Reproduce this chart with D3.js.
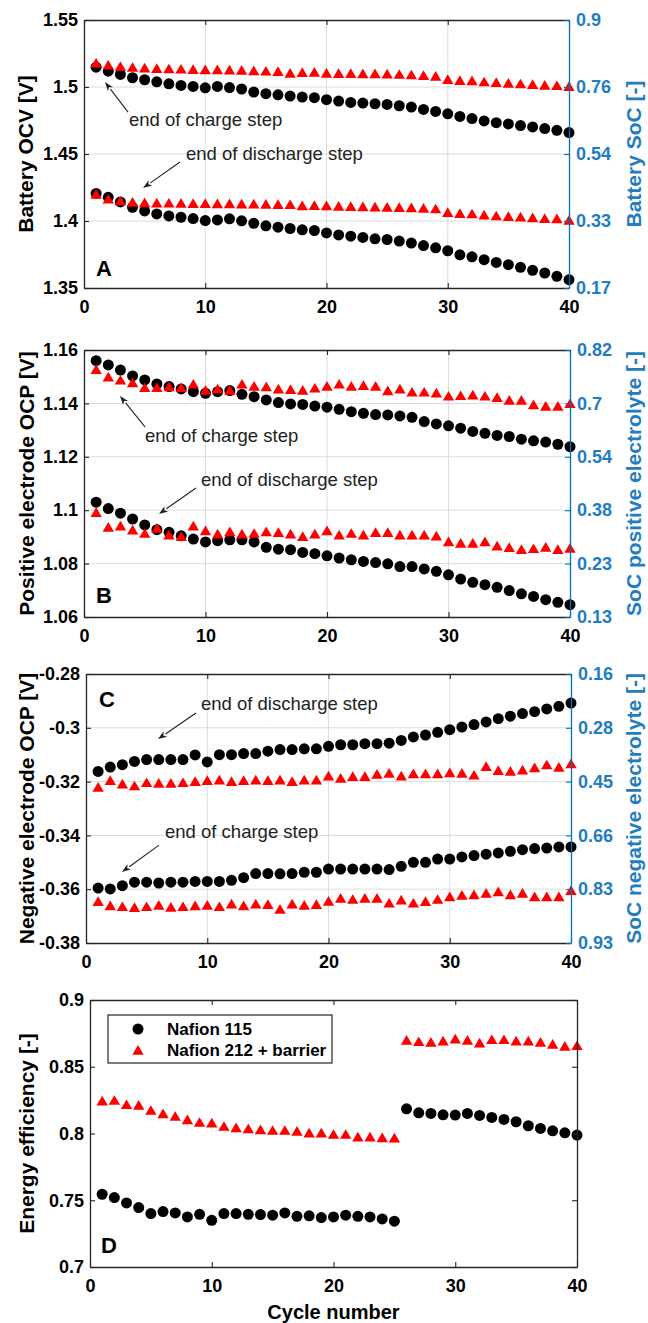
<!DOCTYPE html>
<html><head><meta charset="utf-8">
<script src="https://cdn.jsdelivr.net/npm/d3@7"></script>
<style>
body{margin:0;background:#fff}
svg{display:block}
text{font-family:"Liberation Sans",Arial,Helvetica,sans-serif}
</style>
</head><body>
<svg id="chart" width="648" height="1323"></svg>
<script>
// ---------------- DATA ----------------
const cycles = d3.range(1, 41);
const xTicks = [0, 10, 20, 30, 40];

// Panel A: battery OCV [V]
const A_ticks = [1.55, 1.5, 1.45, 1.4, 1.35];
const A_socLabels = ["0.9", "0.76", "0.54", "0.33", "0.17"];
const A_charge_N115 = [1.5148,1.5118,1.5094,1.5069,1.5054,1.5039,1.5024,1.5012,1.5004,1.4994,1.5004,1.4996,1.4985,1.4962,1.495,1.4942,1.4932,1.4925,1.492,1.4905,1.4895,1.4885,1.488,1.4875,1.487,1.486,1.485,1.4833,1.4818,1.48,1.478,1.4764,1.4747,1.4734,1.4724,1.4712,1.4702,1.469,1.4677,1.466];
const A_charge_N212 = [1.518,1.5165,1.5155,1.5148,1.5143,1.514,1.5137,1.5135,1.5133,1.5131,1.513,1.5128,1.5126,1.5123,1.512,1.5118,1.5105,1.511,1.5112,1.5105,1.5103,1.5102,1.51,1.51,1.5098,1.5096,1.5092,1.5088,1.5082,1.5058,1.505,1.5048,1.504,1.5035,1.503,1.5025,1.502,1.5015,1.5012,1.5005];
const A_dis_N115 = [1.4206,1.4177,1.4142,1.4102,1.4075,1.4053,1.4038,1.4028,1.4018,1.4003,1.4008,1.4016,1.4001,1.3983,1.3964,1.3954,1.3944,1.3934,1.3929,1.3911,1.3896,1.3887,1.3877,1.3867,1.3862,1.385,1.3835,1.3817,1.38,1.3778,1.3748,1.3733,1.3711,1.3691,1.3674,1.3654,1.3632,1.3612,1.3587,1.3562];
const A_dis_N212 = [1.4201,1.4165,1.4152,1.4142,1.4138,1.4136,1.4135,1.4134,1.4133,1.4132,1.4131,1.413,1.4129,1.4128,1.4126,1.4125,1.4124,1.4115,1.4118,1.4116,1.4112,1.411,1.4108,1.4106,1.4104,1.4102,1.41,1.4097,1.4092,1.4065,1.4058,1.4055,1.4046,1.404,1.4036,1.4031,1.4026,1.4021,1.4018,1.4008];

// Panel B: positive electrode OCP [V]
const B_ticks = [1.16, 1.14, 1.12, 1.1, 1.08, 1.06];
const B_socLabels = ["0.82", "0.7", "0.54", "0.38", "0.23", "0.13"];
const B_charge_N115 = [1.156,1.1544,1.1525,1.1503,1.1488,1.1473,1.1463,1.1454,1.1444,1.1438,1.1444,1.1448,1.1434,1.1425,1.1413,1.1403,1.1398,1.1396,1.139,1.1386,1.1378,1.1369,1.1363,1.1358,1.1357,1.1353,1.1348,1.1332,1.1323,1.1316,1.1307,1.1295,1.1288,1.128,1.1276,1.1266,1.126,1.1255,1.1247,1.1238];
const B_charge_N212 = [1.1528,1.15,1.1488,1.1478,1.146,1.146,1.1463,1.146,1.1473,1.145,1.1455,1.145,1.1473,1.1465,1.1463,1.1455,1.1453,1.145,1.1458,1.1465,1.1473,1.1465,1.1468,1.1465,1.1448,1.1455,1.1443,1.1443,1.144,1.1428,1.143,1.1432,1.1428,1.1423,1.1413,1.1413,1.1396,1.139,1.139,1.14];
const B_dis_N115 = [1.103,1.1006,1.0989,1.0967,1.0945,1.0927,1.0917,1.0904,1.0892,1.0881,1.0886,1.0889,1.0889,1.0881,1.0861,1.0854,1.0852,1.0842,1.0837,1.0829,1.0821,1.0814,1.0808,1.0804,1.0799,1.0789,1.0789,1.078,1.0771,1.0758,1.0742,1.073,1.0721,1.0711,1.0699,1.0687,1.0677,1.0665,1.0655,1.0646];
const B_dis_N212 = [1.0992,1.0937,1.0942,1.0927,1.0914,1.0933,1.0908,1.0902,1.0942,1.0924,1.0912,1.092,1.0912,1.0914,1.092,1.0917,1.0912,1.0902,1.0912,1.0924,1.0908,1.0914,1.0908,1.0917,1.0917,1.0908,1.0908,1.0908,1.0904,1.0883,1.0877,1.0877,1.0883,1.0867,1.0861,1.0854,1.0857,1.0862,1.0854,1.0858];

// Panel C: negative electrode OCP [V]
const C_ticks = [-0.28, -0.3, -0.32, -0.34, -0.36, -0.38];
const C_socLabels = ["0.16", "0.28", "0.45", "0.66", "0.83", "0.93"];
const C_dis_N115 = [-0.3162,-0.3146,-0.3137,-0.3125,-0.3118,-0.3118,-0.3118,-0.3118,-0.3101,-0.3127,-0.31,-0.31,-0.3096,-0.3096,-0.3087,-0.3081,-0.3081,-0.3078,-0.3078,-0.3069,-0.3063,-0.3063,-0.3059,-0.3059,-0.3057,-0.3047,-0.3034,-0.3027,-0.3017,-0.3007,-0.2997,-0.2988,-0.2978,-0.2966,-0.2957,-0.2947,-0.294,-0.293,-0.292,-0.2908];
const C_dis_N212 = [-0.322,-0.3195,-0.3208,-0.3215,-0.3203,-0.3205,-0.3205,-0.3203,-0.3199,-0.3195,-0.3193,-0.3199,-0.3195,-0.3193,-0.3195,-0.3193,-0.3199,-0.3193,-0.3193,-0.3178,-0.3187,-0.318,-0.318,-0.3172,-0.3168,-0.3178,-0.317,-0.317,-0.317,-0.3166,-0.3168,-0.3175,-0.3143,-0.3158,-0.3161,-0.3156,-0.3148,-0.3137,-0.3146,-0.3133];
const C_charge_N115 = [-0.3596,-0.3599,-0.3587,-0.3574,-0.3574,-0.3577,-0.3574,-0.3574,-0.3571,-0.3571,-0.3571,-0.3567,-0.3557,-0.3542,-0.3542,-0.3543,-0.3542,-0.3537,-0.3537,-0.3525,-0.3525,-0.3525,-0.3525,-0.3525,-0.3527,-0.3515,-0.35,-0.35,-0.3488,-0.3488,-0.348,-0.3475,-0.347,-0.3465,-0.3459,-0.3453,-0.3449,-0.3447,-0.3443,-0.3443];
const C_charge_N212 = [-0.3645,-0.3661,-0.3664,-0.3667,-0.3664,-0.3659,-0.3666,-0.3664,-0.3661,-0.3659,-0.3664,-0.3654,-0.3661,-0.3654,-0.3656,-0.3674,-0.3654,-0.3659,-0.3656,-0.3644,-0.3633,-0.3637,-0.3633,-0.3633,-0.3651,-0.3639,-0.3651,-0.3645,-0.3637,-0.3627,-0.3622,-0.362,-0.3614,-0.3609,-0.362,-0.3614,-0.3627,-0.3627,-0.3627,-0.3604];

// Panel D: energy efficiency [-]
const D_ticks = [0.9, 0.85, 0.8, 0.75, 0.7];
const D_N115 = [0.7545,0.752,0.748,0.7445,0.74,0.7415,0.7405,0.7375,0.7395,0.735,0.74,0.74,0.7395,0.7393,0.7388,0.7405,0.738,0.7383,0.737,0.7375,0.7388,0.738,0.7375,0.736,0.7343,0.8185,0.8155,0.815,0.814,0.8138,0.815,0.8135,0.812,0.8105,0.8088,0.8058,0.8038,0.802,0.8005,0.7988];
const D_N212 = [0.8245,0.825,0.8218,0.8213,0.8175,0.815,0.813,0.8105,0.8085,0.808,0.8055,0.8045,0.8038,0.803,0.8025,0.8025,0.8018,0.8005,0.8005,0.7995,0.7995,0.7975,0.7975,0.797,0.7968,0.87,0.869,0.8685,0.8695,0.871,0.87,0.868,0.8705,0.8705,0.8695,0.8695,0.8685,0.867,0.8655,0.866];

const legendLabels = ["Nafion 115", "Nafion 212 + barrier"];

// ---------------- DRAWING ----------------
const svg = d3.select("#chart");
const FRAME = "#262626", BLUE = "#0072BD", BLUE_TXT = "#1f7dc0", GRID = "#dcdcdc";
const TICK_FS = 18, TITLE_FS = 21, ANN_FS = 18.5;
const triPath = "M0,-5L5.7,4.7L-5.7,4.7Z";
const R = 5.5;

function drawPanel(cfg) {
  const g = svg.append("g");
  const x = d3.scaleLinear().domain([0, 40]).range([cfg.l, cfg.r]);
  const y = d3.scaleLinear().domain(d3.extent(cfg.yTicks)).range([cfg.b, cfg.t]);

  if (cfg.grid) {
    g.append("g").selectAll("line").data(xTicks.slice(1, -1)).join("line")
      .attr("x1", d => x(d)).attr("x2", d => x(d)).attr("y1", cfg.t).attr("y2", cfg.b)
      .attr("stroke", GRID).attr("stroke-width", 1);
    g.append("g").selectAll("line").data(cfg.yTicks.slice(1, -1)).join("line")
      .attr("y1", d => y(d)).attr("y2", d => y(d)).attr("x1", cfg.l).attr("x2", cfg.r)
      .attr("stroke", GRID).attr("stroke-width", 1);
  }

  // series (circles first, red triangles drawn on top)
  cfg.circles.forEach(arr => {
    g.append("g").selectAll("circle").data(arr.map((v, i) => [cycles[i], v])).join("circle")
      .attr("cx", d => x(d[0])).attr("cy", d => y(d[1])).attr("r", R).attr("fill", "#000");
  });
  cfg.triangles.forEach(arr => {
    g.append("g").selectAll("path").data(arr.map((v, i) => [cycles[i], v])).join("path")
      .attr("d", triPath).attr("transform", d => `translate(${x(d[0])},${y(d[1])})`)
      .attr("fill", "#ff0000");
  });

  const fmt = d => String(+d.toFixed(3));
  const ax = g.append("g").attr("transform", `translate(0,${cfg.b})`)
    .call(d3.axisBottom(x).tickValues(xTicks).tickSizeInner(-5).tickSizeOuter(0).tickPadding(12).tickFormat(d3.format("d")));
  const at = g.append("g").attr("transform", `translate(0,${cfg.t})`)
    .call(d3.axisTop(x).tickValues(xTicks).tickSizeInner(-5).tickSizeOuter(0).tickFormat(""));
  const al = g.append("g").attr("transform", `translate(${cfg.l},0)`)
    .call(d3.axisLeft(y).tickValues(cfg.yTicks).tickSizeInner(-5).tickSizeOuter(0).tickPadding(6).tickFormat(fmt));
  const ar = g.append("g").attr("transform", `translate(${cfg.r},0)`)
    .call(d3.axisRight(y).tickValues(cfg.yTicks).tickSizeInner(-5).tickSizeOuter(0).tickPadding(7)
      .tickFormat((d, i) => cfg.rightLabels ? cfg.rightLabels[i] : ""));

  [ax, at, al].forEach(a => {
    a.select(".domain").attr("stroke", FRAME).attr("stroke-width", 1.3);
    a.selectAll(".tick line").attr("stroke", FRAME).attr("stroke-width", 1.1);
    a.selectAll("text").attr("fill", "#000").attr("font-size", TICK_FS).attr("font-weight", "bold")
      .attr("font-family", '"Liberation Sans",Arial,sans-serif');
  });
  const rc = cfg.rightLabels ? BLUE : FRAME;
  ar.select(".domain").attr("stroke", rc).attr("stroke-width", 1.3);
  ar.selectAll(".tick line").attr("stroke", rc).attr("stroke-width", 1.1);
  ar.selectAll("text").attr("fill", BLUE_TXT).attr("font-size", TICK_FS).attr("font-weight", "bold")
    .attr("font-family", '"Liberation Sans",Arial,sans-serif');

  const cy = (cfg.t + cfg.b) / 2;
  g.append("text").attr("transform", `translate(${cfg.titleX},${cy}) rotate(-90)`)
    .attr("text-anchor", "middle").attr("dy", "0.36em")
    .attr("font-size", TITLE_FS).attr("font-weight", "bold").text(cfg.leftTitle);
  if (cfg.rightTitle) {
    g.append("text").attr("transform", `translate(633,${cy}) rotate(-90)`)
      .attr("text-anchor", "middle").attr("dy", "0.36em").attr("fill", BLUE_TXT)
      .attr("font-size", TITLE_FS).attr("font-weight", "bold").text(cfg.rightTitle);
  }
  g.append("text").attr("x", cfg.l + cfg.letter[0]).attr("y", cfg.letter[1] >= 0 ? cfg.t + cfg.letter[1] : cfg.b + cfg.letter[1])
    .attr("font-size", 22).attr("font-weight", "bold").text(cfg.letterText);

  (cfg.notes || []).forEach(n => {
    g.append("text").attr("x", x(n.text[0])).attr("y", y(n.text[1]))
      .attr("font-size", ANN_FS).attr("fill", "#222").text(n.label);
    const x1 = x(n.tail[0]), y1 = y(n.tail[1]), x2 = x(n.head[0]), y2 = y(n.head[1]);
    const ang = Math.atan2(y2 - y1, x2 - x1), L = 9, W = 3.2;
    const bx = x2 - L * Math.cos(ang), by = y2 - L * Math.sin(ang);
    g.append("line").attr("x1", x1).attr("y1", y1).attr("x2", bx).attr("y2", by)
      .attr("stroke", "#222").attr("stroke-width", 1.1);
    g.append("path").attr("fill", "#222").attr("d",
      `M${x2},${y2}L${bx + W * Math.sin(ang)},${by - W * Math.cos(ang)}L${x2 - (L - 2.5) * Math.cos(ang)},${y2 - (L - 2.5) * Math.sin(ang)}L${bx - W * Math.sin(ang)},${by + W * Math.cos(ang)}Z`);
  });
  return {g, x, y};
}

drawPanel({
  l: 84, r: 569, t: 20, b: 288, grid: true, yTicks: A_ticks, rightLabels: A_socLabels,
  circles: [A_charge_N115, A_dis_N115], triangles: [A_charge_N212, A_dis_N212],
  leftTitle: "Battery OCV [V]", rightTitle: "Battery SoC [-]", titleX: 25,
  letter: [12, -12], letterText: "A",
  notes: [
    {label: "end of charge step", text: [3.71, 1.4709], tail: [3.63, 1.4813], head: [1.73, 1.5037]},
    {label: "end of discharge step", text: [8.41, 1.4455], tail: [7.92, 1.444], head: [4.87, 1.4246]}
  ]
});
drawPanel({
  l: 84, r: 570, t: 350, b: 617, grid: true, yTicks: B_ticks, rightLabels: B_socLabels,
  circles: [B_charge_N115, B_dis_N115], triangles: [B_charge_N212, B_dis_N212],
  leftTitle: "Positive electrode OCP [V]", rightTitle: "SoC positive electrolyte [-]", titleX: 26,
  letter: [12, -14], letterText: "B",
  notes: [
    {label: "end of charge step", text: [5.02, 1.1255], tail: [5.02, 1.1312], head: [2.96, 1.1428]},
    {label: "end of discharge step", text: [9.63, 1.1091], tail: [9.22, 1.1083], head: [6.17, 1.0986]}
  ]
});
drawPanel({
  l: 86, r: 571, t: 674, b: 943, grid: true, yTicks: C_ticks, rightLabels: C_socLabels,
  circles: [C_dis_N115, C_charge_N115], triangles: [C_dis_N212, C_charge_N212],
  leftTitle: "Negative electrode OCP [V]", rightTitle: "SoC negative electrolyte [-]", titleX: 26,
  letter: [13, 33], letterText: "C",
  notes: [
    {label: "end of discharge step", text: [9.48, -0.2934], tail: [9.07, -0.2945], head: [5.94, -0.3042]},
    {label: "end of charge step", text: [6.52, -0.341], tail: [6.02, -0.3436], head: [2.97, -0.3536]}
  ]
});
const pD = drawPanel({
  l: 90, r: 577, t: 1000, b: 1267, grid: false, yTicks: D_ticks, rightLabels: null,
  circles: [D_N115], triangles: [D_N212],
  leftTitle: "Energy efficiency [-]", rightTitle: null, titleX: 26,
  letter: [11, -14], letterText: "D", notes: []
});
svg.append("text").attr("x", (90 + 577) / 2).attr("y", 1319).attr("text-anchor", "middle")
  .attr("font-size", 20).attr("font-weight", "bold").text("Cycle number");

// legend
const lg = pD.g.append("g").attr("transform", "translate(108,1015)");
lg.append("rect").attr("width", 224).attr("height", 48).attr("fill", "#fff")
  .attr("stroke", FRAME).attr("stroke-width", 1.2);
const legItems = lg.selectAll("g.item").data(legendLabels).join("g").attr("class", "item")
  .attr("transform", (d, i) => `translate(0,${14 + i * 21})`);
legItems.each(function(d, i) {
  const it = d3.select(this);
  if (i === 0) it.append("circle").attr("cx", 30).attr("cy", 0).attr("r", R).attr("fill", "#000");
  else it.append("path").attr("d", triPath).attr("transform", "translate(30,0)").attr("fill", "#ff0000");
  it.append("text").attr("x", 59).attr("y", 0).attr("dy", "0.36em")
    .attr("font-size", 17).attr("font-weight", "bold").text(d);
});
</script>
</body></html>
